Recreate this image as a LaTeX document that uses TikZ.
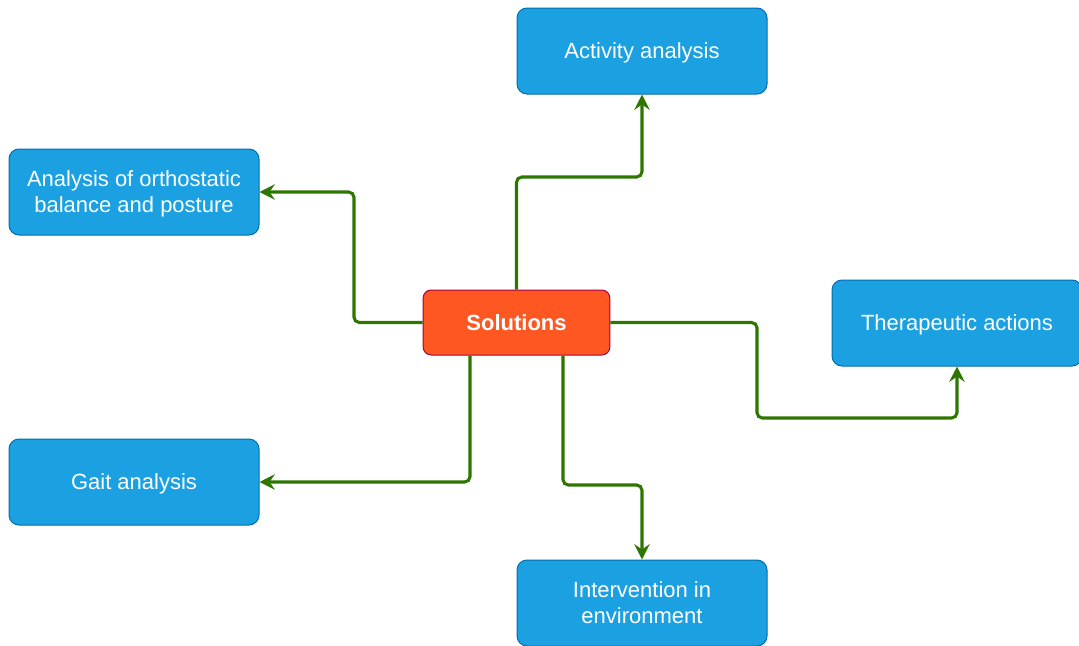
\documentclass[tikz,border=0pt]{standalone}
\usepackage{fontspec}
\setmainfont{Liberation Sans}
\usetikzlibrary{arrows.meta}
\usetikzlibrary{calc}
\definecolor{boxblue}{HTML}{1BA1E2}
\definecolor{boxline}{HTML}{006EAF}
\definecolor{solfill}{HTML}{FF5722}
\definecolor{solline}{HTML}{A50040}
\definecolor{arrgreen}{HTML}{2D7600}

\begin{document}
\begin{tikzpicture}
	[x=0.75pt, y=-0.75pt,
	 every node/.style={font=\fontsize{16.5}{19.5}\selectfont, text=white, align=center, text depth=0pt},
	 topic/.style={draw=boxline, fill=boxblue, line width=0.75pt, rounded corners=7.5pt,
		minimum width=187.5pt, minimum height=64.5pt, inner sep=0pt},
	 hub/.style={draw=solline, fill=solfill, line width=0.75pt, rounded corners=6pt,
		minimum width=140pt, minimum height=48.75pt, inner sep=0pt, font=\fontsize{16.5}{19.5}\selectfont\bfseries},
	 link/.style={draw=arrgreen, line width=2.3pt, rounded corners=4pt,
		-{Stealth[length=11.5pt, width=11.5pt, inset=4pt]}}]
	\useasboundingbox (0,0) rectangle (1079,646);
	% centre
	\node[hub] (sol) at (516.5,322.5) {Solutions};
	% topics
	\node[topic] (act) at (642,51) {Activity analysis};
	\node[topic] (bal) at (134,192) {Analysis of orthostatic\\balance and posture};
	\node[topic] (ther) at (957,323) {Therapeutic actions};
	\node[topic] (gait) at (134,482) {Gait analysis};
	\node[topic] (env) at (642,603) {Intervention in\\environment};
	% links
	\draw[link] (sol.north) |- (act.south |- 0,177) -- (act.south);
	\draw[link] (sol.west) -| (354,192) -- (bal.east);
	\draw[link] (sol.east) -| (757,418) -| (ther.south);
	\draw[link] ($(sol.south)+(-46.5,0)$) |- (gait.east);
	\draw[link] ($(sol.south)+(46.5,0)$) |- (env.north |- 0,485) -- (env.north);
\end{tikzpicture}
\end{document}
